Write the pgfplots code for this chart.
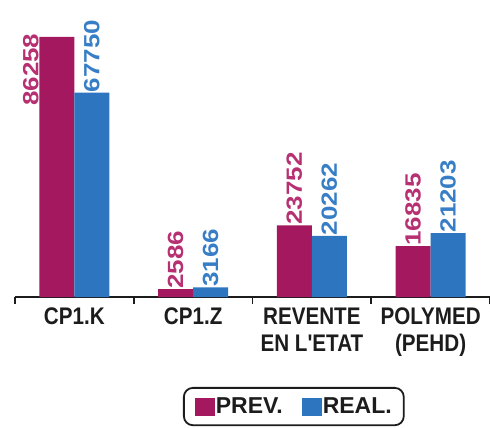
\documentclass[border=0pt]{standalone}
\usepackage{fontspec}
\setmainfont{Liberation Sans}
\newfontfamily\ticfont[FakeStretch=0.86]{Liberation Sans}
\newfontfamily\valfont[FakeStretch=1.18]{Liberation Sans}
\usepackage{pgfplots}
\pgfplotsset{compat=1.18}
\definecolor{prev}{RGB}{163,24,94}
\definecolor{real}{RGB}{46,117,192}
\definecolor{prevtxt}{RGB}{182,48,114}
\definecolor{realtxt}{RGB}{55,126,198}
\definecolor{tick}{RGB}{28,28,28}
\begin{document}
\begin{tikzpicture}
\path[use as bounding box] (-15pt,-131pt) rectangle (475pt,297pt);
\begin{axis}[
    scale only axis,
    width=475pt, height=297pt,
    xmin=-0.5, xmax=3.5, ymin=0, ymax=98500,
    ybar=0pt, bar width=35pt,
    axis x line*=bottom, axis y line=none,
    x axis line style={line width=2.2pt, -, tick},
    xtick={0,1,2,3},
    xticklabels={CP1.K, CP1.Z, REVENTE\\EN L'ETAT, POLYMED\\(PEHD)},
    major tick length=0pt,
    minor xtick={-0.5,0.5,1.5,2.5,3.5},
    minor tick length=7pt, xtick align=outside,
    minor x tick style={line width=1.6pt, tick},
    xticklabel style={font=\ticfont\bfseries\fontsize{24}{27}\selectfont,
        align=center, inner sep=0pt, anchor=north, yshift=-11pt, text=tick},
    clip=false,
    nodes near coords, point meta=explicit symbolic,
    every node near coord/.append style={rotate=90, anchor=west,
        inner sep=0.5pt, font=\valfont\bfseries\fontsize{22}{22}\selectfont},
    legend style={at={(0.587,-0.303)}, anchor=north, draw=tick,
        line width=1.8pt, rounded corners=9pt, legend columns=2,
        font=\bfseries\fontsize{23}{23}\selectfont, text=tick,
        inner xsep=11pt, inner ysep=9pt, nodes={inner sep=1pt},
        /tikz/every even column/.append style={column sep=18pt}},
    legend image code/.code={\fill[#1, sharp corners] (0pt,-9pt) rectangle (20pt,9pt);},
]
\addplot[fill=prev, draw=none,
    every node near coord/.append style={text=prevtxt}]
    coordinates {(0,86258) [{}] (1,2586) [2586] (2,23752) [23752] (3,16835) [16835]};
\addplot[fill=real, draw=none,
    every node near coord/.append style={text=realtxt}]
    coordinates {(0,67750) [67750] (1,3166) [3166] (2,20262) [20262] (3,21203) [21203]};
\legend{PREV., REAL.}
% label of the tallest bar, set beside it
\addplot[draw=none, fill=none, forget plot, bar shift=-17.5pt,
    every node near coord/.append style={text=prevtxt, anchor=east,
        xshift=4pt, yshift=26pt}]
    coordinates {(0,86258) [86258]};
\end{axis}
\end{tikzpicture}
\end{document}
